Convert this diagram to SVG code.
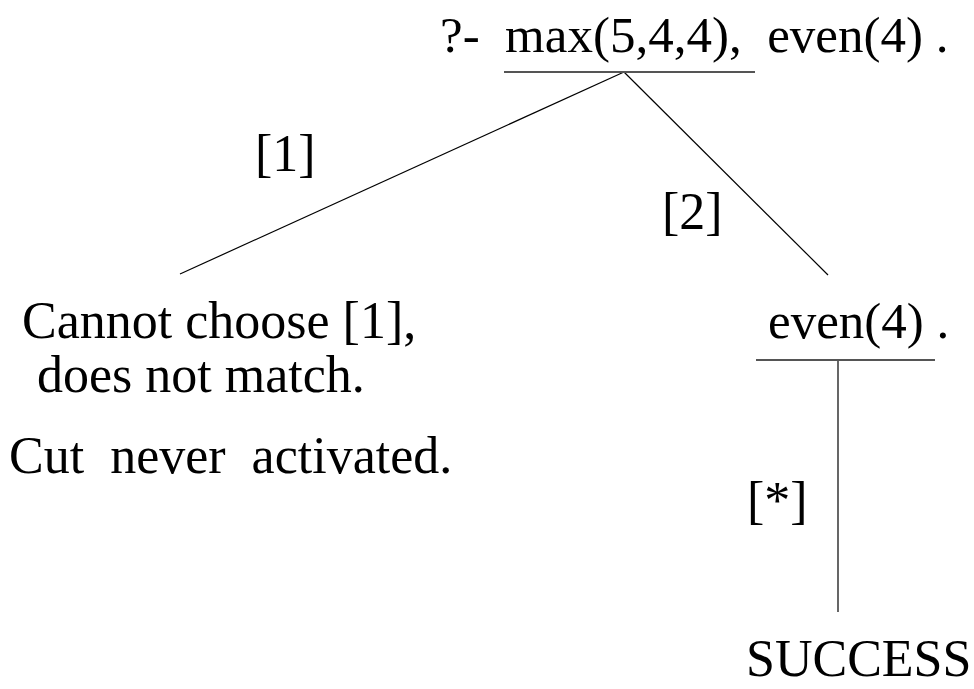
<svg xmlns="http://www.w3.org/2000/svg" width="974" height="689" viewBox="0 0 974 689">
<style>
text{font-family:"Liberation Serif","Times New Roman",serif;font-size:52px;fill:#000}
.s51{font-size:51px}
.ul{stroke:#555;stroke-width:2;fill:none}
.br{stroke:#000;stroke-width:1.2;fill:none}
</style>
<rect width="974" height="689" fill="#fff"/>
<g id="connectors">
<line class="br" x1="624" y1="72" x2="180" y2="274"/>
<line class="br" x1="624" y1="72" x2="828" y2="275"/>
<line class="br" x1="838" y1="360" x2="838" y2="612"/>
</g>
<g id="root">
<text class="s51" x="440" y="52" xml:space="preserve">?-  max(5,4,4),  even(4) .</text>
<line class="ul" x1="504" y1="72" x2="755" y2="72"/>
</g>
<g id="label1"><text x="255" y="171">[1]</text></g>
<g id="label2"><text x="662" y="229">[2]</text></g>
<g id="fail">
<text x="22" y="338">Cannot choose [1],</text>
<text x="37" y="392">does not match.</text>
<text x="9" y="473" xml:space="preserve">Cut  never  activated.</text>
</g>
<g id="even">
<text class="s51" x="768" y="338">even(4) .</text>
<line class="ul" x1="756" y1="360" x2="935" y2="360"/>
</g>
<g id="labelstar"><text x="747" y="518">[*]</text></g>
<g id="success"><text x="746" y="676">SUCCESS</text></g>
</svg>
